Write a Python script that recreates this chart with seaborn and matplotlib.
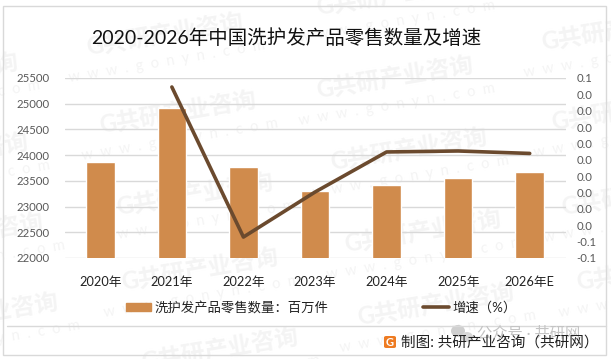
import numpy as np
import pandas as pd
import matplotlib
matplotlib.use('Agg')
import matplotlib.pyplot as plt
from matplotlib.patches import Rectangle, FancyBboxPatch, Ellipse
from matplotlib.lines import Line2D
import seaborn as sns

# --- data ---
years = ['2020年', '2021年', '2022年', '2023年', '2024年', '2025年', '2026年E']
quantity = [23860, 24910, 23760, 23310, 23420, 23550, 23670]
growth = [np.nan, 0.0545, -0.0372, -0.0097, 0.0148, 0.0154, 0.0139]
left_ticks = [22000, 22500, 23000, 23500, 24000, 24500, 25000, 25500]
right_ticks = [-0.05, -0.04, -0.03, -0.02, -0.01, 0.0, 0.01, 0.02, 0.03, 0.04, 0.05, 0.06]
right_labels = ['-0.1', '-0.1', '0.0', '0.0', '0.0', '0.0', '0.0', '0.0', '0.0', '0.0', '0.0', '0.1']

BAR_COLOR = '#D08B4C'
LINE_COLOR = '#6B4A2E'
GRID_COLOR = '#D9D9D9'
TEXT_COLOR = '#595959'
MARK_COLOR = '#F4F4F4'

sns.set_theme(style='white')
plt.rcParams['font.family'] = ['Lato', 'Noto Sans CJK SC', 'DejaVu Sans']

df = pd.DataFrame({'year': years, 'quantity': quantity, 'growth': growth})
df['pos'] = range(len(df))

W, H = 611, 359
fig = plt.figure(figsize=(W / 100, H / 100), dpi=100, facecolor='white')
ax = fig.add_axes([64.5 / W, 1 - 258 / H, 501 / W, 180 / H])
ax.patch.set_alpha(0)

# --- watermark sits under everything ---
marks = [(165, 35), (178, 113), (195, 195), (200, 270), (220, 350), (395, 78), (409, 150), (423, 232), (436, 305),
         (395, -5), (620, 30), (630, 110), (640, 195), (655, 270), (-60, 75), (-50, 155), (-35, 235), (-20, 315)]
for mx, my in marks:
    fig.text(mx / W, 1 - my / H, 'G共研产业咨询', fontsize=17, fontweight='bold', color=MARK_COLOR,
             rotation=9.5, ha='center', va='center', zorder=-5)
    fig.text((mx + 2) / W, 1 - (my + 27) / H, 'w  w  w  .  g  o  n  y  n  .  c  o  m', fontsize=10.5,
             color=MARK_COLOR, rotation=9.5, ha='center', va='center', zorder=-5)

# --- bars on the left axis ---
sns.barplot(data=df, x='pos', y='quantity', color=BAR_COLOR, saturation=1, width=0.4, ax=ax, zorder=2)
ax.set_xlim(-0.5, len(years) - 0.5)
ax.set_ylim(22000, 25500)
ax.set_yticks(left_ticks)
ax.set_xticks(df['pos'])
ax.set_xticklabels(years, fontsize=9.2, color='#222222')
ax.tick_params(axis='x', length=0, pad=13)
ax.tick_params(axis='y', length=0, pad=11, labelsize=8.2, labelcolor=TEXT_COLOR)
ax.set_xlabel('')
ax.set_ylabel('')
ax.grid(axis='y', color=GRID_COLOR, linewidth=1)
ax.set_axisbelow(True)
for s in ax.spines.values():
    s.set_visible(False)

# --- growth line on the right axis ---
ax2 = ax.twinx()
sns.lineplot(data=df, x='pos', y='growth', color=LINE_COLOR, linewidth=2.6, ax=ax2, zorder=5)
ax2.set_ylim(-0.05, 0.06)
ax2.set_yticks(right_ticks)
ax2.set_yticklabels(right_labels)
ax2.tick_params(axis='y', length=0, pad=8, labelsize=8.2, labelcolor=TEXT_COLOR)
ax2.set_xlabel('')
ax2.set_ylabel('')
ax2.grid(False)
for s in ax2.spines.values():
    s.set_visible(False)

# --- title ---
fig.text(286 / W, 1 - 38 / H, '2020-2026年中国洗护发产品零售数量及增速', fontsize=14, color='#111111',
         ha='center', va='center')

# --- legend ---
handles = [Rectangle((0, 0), 1, 1, color=BAR_COLOR), Line2D([0], [0], color=LINE_COLOR, linewidth=2.6)]
fig.legend(handles, ['洗护发产品零售数量：百万件', '增速（%）'], loc='center', frameon=False, ncol=2,
           bbox_to_anchor=(321 / W, 1 - 307 / H), fontsize=9.6, labelcolor='#222222', columnspacing=7.15,
           handlelength=1.9, handleheight=0.6, handletextpad=0.25)

# --- frame, footer rule and source note ---
fig.add_artist(Rectangle((3 / W, 1 - 355 / H), 603 / W, 349 / H, transform=fig.transFigure, fill=False,
                         edgecolor='#D9D9D9', linewidth=1))
fig.add_artist(Line2D([7 / W, 606 / W], [1 - 326 / H, 1 - 326 / H], color='#D9D9D9', linewidth=1))
fig.add_artist(Ellipse((458 / W, 1 - 331 / H), 14 / W, 12 / H, transform=fig.transFigure, facecolor='#CFCFCF',
                       edgecolor='none'))
fig.add_artist(Ellipse((467 / W, 1 - 337 / H), 12 / W, 10 / H, transform=fig.transFigure, facecolor='#D8D8D8',
                       edgecolor='none'))
fig.text(477 / W, 1 - 333 / H, '公众号 · 共研网', fontsize=11, color='#C4C4C4', ha='left', va='center')
fig.add_artist(FancyBboxPatch((384 / W, 1 - 348 / H), 12 / W, 12 / H, boxstyle='round,pad=0,rounding_size=0.004',
                              transform=fig.transFigure, facecolor='#EE7B22', edgecolor='none'))
fig.text(390 / W, 1 - 342 / H, 'G', fontsize=8, fontweight='bold', color='white', ha='center', va='center')
fig.text(401 / W, 1 - 343 / H, '制图: 共研产业咨询（共研网）', fontsize=10.5, color='#222222', ha='left', va='center',
         zorder=5)

fig.savefig('out.png', dpi=100)
